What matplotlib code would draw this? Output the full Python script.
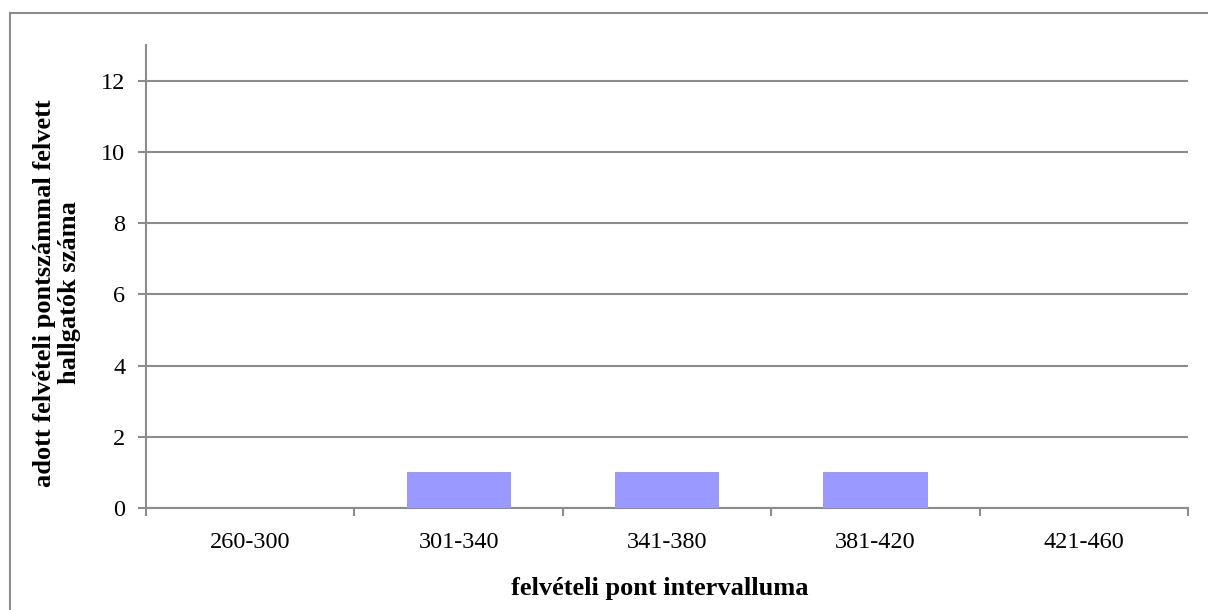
import matplotlib.pyplot as plt
from matplotlib.patches import Rectangle

categories = ['260-300', '301-340', '341-380', '381-420', '421-460']
counts = [0, 1, 1, 1, 0]
yticks = [0, 2, 4, 6, 8, 10, 12]

plt.rcParams['font.family'] = ['Liberation Serif', 'DejaVu Serif']

W, H = 1208, 610
fig = plt.figure(figsize=(W / 100, H / 100), dpi=100)
ax = fig.add_axes([146 / W, 1 - 508 / H, (1188 - 146) / W, (508 - 45) / H])

gray = '#8c8c8c'
x = list(range(len(categories)))
ax.bar(x, counts, width=0.5, color='#9999ff', zorder=3)
ax.set_xlim(-0.5, len(categories) - 0.5)
ax.set_ylim(0, 13)
ax.set_yticks(yticks)
ax.set_xticks(x)
ax.set_xticklabels(categories)
ax.set_xticks([i - 0.5 for i in range(len(categories) + 1)], minor=True)
ax.tick_params(axis='x', which='major', length=0, pad=17, labelsize=17.5)
ax.tick_params(axis='x', which='minor', length=6, width=1.5, color=gray, direction='out')
ax.tick_params(axis='y', length=6, width=1.5, color=gray, labelsize=17.5, pad=9)
ax.grid(axis='y', color=gray, linewidth=1.5, zorder=0)
for s in ['top', 'right']:
    ax.spines[s].set_visible(False)
for s in ['left', 'bottom']:
    ax.spines[s].set_color(gray)
    ax.spines[s].set_linewidth(1.5)

fig.text(660 / W, 1 - 588 / H, 'felvételi pont intervalluma', fontsize=19,
         fontweight='bold', ha='center', va='center')
fig.text(57 / W, 1 - 293 / H, 'adott felvételi pontszámmal felvett\nhallgatók száma',
         fontsize=19, fontweight='bold', ha='center', va='center', rotation=90,
         linespacing=1.1, multialignment='center')

fig.patches.append(Rectangle((10 / W, -0.1), 1.2, 1 - 13 / H + 0.1, transform=fig.transFigure,
                             fill=False, edgecolor=gray, linewidth=1.5))

fig.savefig('out.png', dpi=100)
